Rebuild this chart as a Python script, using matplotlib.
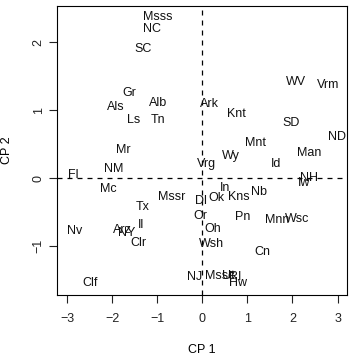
import matplotlib
matplotlib.use("Agg")
import matplotlib.pyplot as plt

plt.rcParams['font.family'] = ['Liberation Sans', 'DejaVu Sans']

# state abbreviations and their scores on the first two components
states = ['Alb', 'Als', 'Arz', 'Ark', 'Clf', 'Clr', 'Cn', 'Dl', 'Fl', 'Gr',
          'Hw', 'Id', 'Il', 'In', 'Iw', 'Kns', 'Knt', 'Ls', 'Man', 'Mr',
          'Mssc', 'Mc', 'Mnn', 'Msss', 'Mssr', 'Mnt', 'Nb', 'Nv', 'NH', 'NJ',
          'NM', 'NY', 'NC', 'ND', 'Oh', 'Ok', 'Or', 'Pn', 'RI', 'SC',
          'SD', 'Tn', 'Tx', 'Ut', 'Vrm', 'Vrg', 'Wsh', 'WV', 'Wsc', 'Wy']
cp1 = [-0.98, -1.92, -1.77, 0.16, -2.50, -1.42, 1.34, -0.04, -2.86, -1.62,
       0.80, 1.63, -1.37, 0.50, 2.26, 0.80, 0.75, -1.53, 2.38, -1.76,
       0.39, -2.09, 1.65, -0.99, -0.68, 1.18, 1.26, -2.84, 2.36, -0.18,
       -1.96, -1.67, -1.11, 2.99, 0.23, 0.32, -0.05, 0.89, 0.73, -1.31,
       1.96, -0.99, -1.33, 0.57, 2.78, 0.10, 0.21, 2.08, 2.10, 0.63]
cp2 = [1.11, 1.05, -0.76, 1.10, -1.54, -0.96, -1.09, -0.33, 0.05, 1.25,
       -1.54, 0.21, -0.69, -0.15, -0.07, -0.27, 0.94, 0.86, 0.37, 0.42,
       -1.44, -0.16, -0.61, 2.38, -0.27, 0.52, -0.20, -0.78, 0.00, -1.45,
       0.13, -0.81, 2.20, 0.60, -0.75, -0.29, -0.55, -0.57, -1.45, 1.91,
       0.81, 0.85, -0.42, -1.44, 1.37, 0.21, -0.97, 1.42, -0.60, 0.33]

fig = plt.figure(figsize=(3.49, 3.61), dpi=100)
ax = fig.add_axes([0.164, 0.183, 0.829, 0.801])

for s, x, y in zip(states, cp1, cp2):
    ax.text(x, y, s, ha='center', va='center', fontsize=9, color='#111111')

ax.axhline(0, color='black', lw=0.9, ls=(0, (4, 4)))
ax.axvline(0, color='black', lw=0.9, ls=(0, (4, 4)))

ax.set_xlim(-3.22, 3.2)
ax.set_ylim(-1.72, 2.54)
ax.set_xticks([-3, -2, -1, 0, 1, 2, 3])
ax.set_yticks([-1, 0, 1, 2])
ax.set_xticklabels(['\u22123', '\u22122', '\u22121', '0', '1', '2', '3'])
ax.set_yticklabels(['\u22121', '0', '1', '2'], rotation=90, va='center')
ax.tick_params(labelsize=9, length=6, width=0.8, colors='#222222')
ax.tick_params(axis='x', pad=7)
ax.tick_params(axis='y', pad=3)
for sp in ax.spines.values():
    sp.set_linewidth(0.8)

ax.set_xlabel('CP 1', fontsize=9, labelpad=14)
ax.set_ylabel('CP 2', fontsize=9, labelpad=14)

fig.savefig('out.png', dpi=100)
